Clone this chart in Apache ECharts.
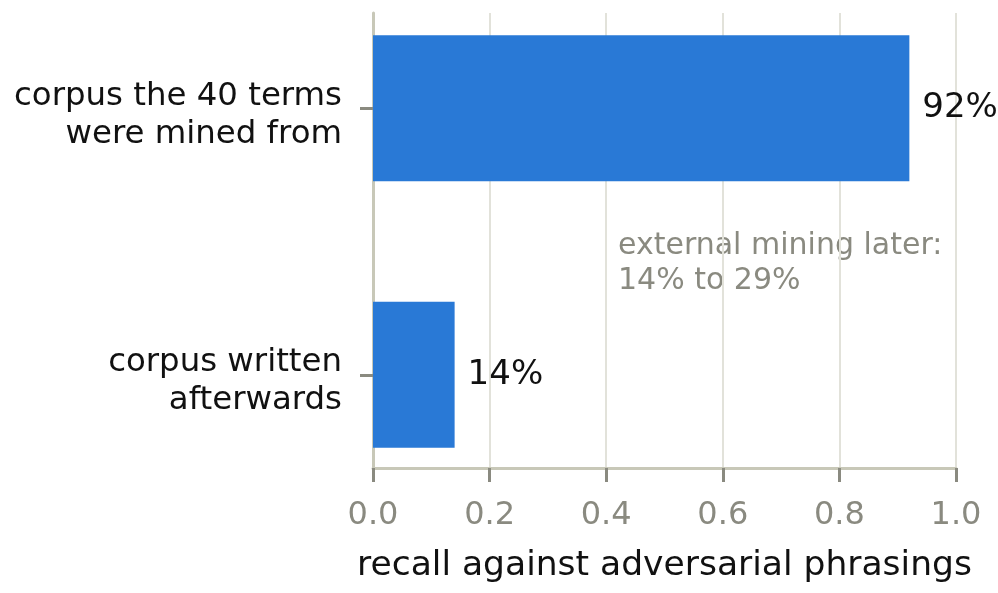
<!DOCTYPE html>
<html>
<head>
<meta charset="utf-8">
<script src="https://cdn.jsdelivr.net/npm/echarts@6/dist/echarts.min.js"></script>
<style>
html,body{margin:0;padding:0;background:#fff;}
#chart{width:998px;height:593px;}
</style>
</head>
<body>
<div id="chart"></div>
<script>
const categories = ['corpus the 40 terms\nwere mined from', 'corpus written\nafterwards'];
const recall = [0.92, 0.14];
const xTicks = [0, 0.2, 0.4, 0.6, 0.8, 1.0];
const xAxisName = 'recall against adversarial phrasings';
const annotation = 'external mining later:\n14% to 29%';

const FONT = 'DejaVu Sans';
const chart = echarts.init(document.getElementById('chart'), null, {renderer: 'canvas'});
chart.setOption({
  animation: false,
  backgroundColor: '#ffffff',
  textStyle: {fontFamily: FONT},
  grid: [
    {left: 373, right: 42, top: 13, bottom: 125, containLabel: false, outerBoundsMode: 'none'},
    {left: 373, right: 42, top: -25, bottom: 85, containLabel: false, outerBoundsMode: 'none'},
    {left: 373, right: 42, top: -18, bottom: 78, containLabel: false, outerBoundsMode: 'none'}
  ],
  xAxis: [
    {
      gridIndex: 0, type: 'value', min: xTicks[0], max: xTicks[xTicks.length - 1], interval: 0.2,
      axisLine: {show: true, lineStyle: {color: '#c8c8b8', width: 3}},
      axisTick: {show: true, length: 14, lineStyle: {color: '#8a8a80', width: 3}},
      axisLabel: {color: '#8a8a80', fontSize: 32, fontFamily: FONT, margin: 32,
        formatter: v => v.toFixed(1)},
      splitLine: {show: true, lineStyle: {color: '#e2e2da', width: 2}},
      name: xAxisName, nameLocation: 'middle', nameGap: 81,
      nameTextStyle: {color: '#111111', fontSize: 34.5, fontFamily: FONT}
    },
    {gridIndex: 1, type: 'value', min: 0, max: 1, show: false},
    {gridIndex: 2, type: 'value', min: 0, max: 1, show: false}
  ],
  yAxis: [
    {
      gridIndex: 0, type: 'value', min: 0, max: 1,
      axisLine: {show: true, lineStyle: {color: '#c8c8b8', width: 3}},
      axisTick: {show: false}, axisLabel: {show: false}, splitLine: {show: false}
    },
    {
      gridIndex: 1, type: 'category', data: categories, inverse: true,
      axisLine: {show: false},
      axisTick: {show: true, length: 13, alignWithLabel: true, lineStyle: {color: '#8a8a80', width: 3}},
      axisLabel: {show: false},
      splitLine: {show: false}
    },
    {
      gridIndex: 2, type: 'category', data: categories, inverse: true,
      axisLine: {show: false}, axisTick: {show: false}, splitLine: {show: false},
      axisLabel: {color: '#111111', fontSize: 32.4, fontFamily: FONT, margin: 31, lineHeight: 38, align: 'right'}
    }
  ],
  series: [{
    type: 'bar', xAxisIndex: 1, yAxisIndex: 1,
    data: recall, barWidth: 146,
    itemStyle: {color: '#2979d6'},
    label: {show: true, position: 'right', distance: 13, color: '#111111', fontSize: 34, fontFamily: FONT,
      formatter: p => Math.round(p.value * 100) + '%'}
  }],
  graphic: [{
    type: 'text', left: 618, top: 229,
    style: {text: annotation, fill: '#8a8a80', fontSize: 30, fontFamily: FONT, lineHeight: 35}
  }]
});
</script>
</body>
</html>
